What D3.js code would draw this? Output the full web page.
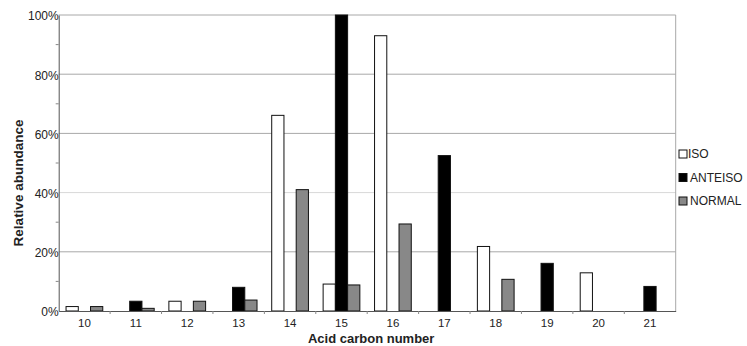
<!DOCTYPE html>
<html>
<head>
<meta charset="utf-8">
<script src="https://cdn.jsdelivr.net/npm/d3@7"></script>
<style>
	body { margin: 0; background: #fff; }
	text { font-family: "Liberation Sans", Arial, sans-serif; fill: #222; }
</style>
</head>
<body>
<div id="chartDiv"></div>
<script>
let categories = ["10", "11", "12", "13", "14", "15", "16", "17", "18", "19", "20", "21"]
let series = ["ISO", "ANTEISO", "NORMAL"]
let isoValues = [1.5, 0, 3.3, 0, 66.1, 9.1, 93, 0, 21.8, 0, 12.9, 0]
let anteisoValues = [0, 3.3, 0, 8.0, 0, 100, 0, 52.5, 0, 16.1, 0, 8.3]
let normalValues = [1.5, 0.9, 3.3, 3.7, 41, 8.8, 29.4, 0, 10.7, 0, 0, 0]
let yTicks = [0, 20, 40, 60, 80, 100]
let yMinorTicks = [10, 30, 50, 70, 90]

let chartWidth = 747
let chartHeight = 346
let plotLeft = 58.7, plotRight = 675.7, plotTop = 15, plotBottom = 311

let fills = { ISO: "#fff", ANTEISO: "#000", NORMAL: "#888" }
let valuesBySeries = { ISO: isoValues, ANTEISO: anteisoValues, NORMAL: normalValues }

let svg = d3.select("#chartDiv")
	.append("svg")
	.attr("width", chartWidth)
	.attr("height", chartHeight)

let x = d3.scaleBand()
	.domain(categories)
	.range([plotLeft, plotRight])
	.paddingInner(0)
	.paddingOuter(0)

let xSub = d3.scaleBand()
	.domain(series)
	.range([0, x.bandwidth()])
	.paddingInner(0)
	.paddingOuter(0.6)

let y = d3.scaleLinear()
	.domain([0, 100])
	.range([plotBottom, plotTop])

// Gridlines
svg.selectAll("line.grid")
	.data(yTicks.slice(1))
	.enter()
	.append("line")
	.attr("class", "grid")
	.attr("x1", plotLeft)
	.attr("x2", plotRight)
	.attr("y1", d => y(d))
	.attr("y2", d => y(d))
	.attr("stroke", d => d == 40 ? "#d8d8d8" : "#a8a8a8")
	.attr("stroke-width", 1)

// Right border
svg.append("line")
	.attr("x1", plotRight).attr("x2", plotRight)
	.attr("y1", plotTop).attr("y2", plotBottom)
	.attr("stroke", "#a8a8a8")

// Bars
let rows = categories.map((c, i) => ({ cat: c, vals: series.map(s => ({ s: s, v: valuesBySeries[s][i] })) }))

let groups = svg.selectAll("g.group")
	.data(rows)
	.enter()
	.append("g")
	.attr("class", "group")
	.attr("transform", d => "translate(" + x(d.cat) + ",0)")

groups.selectAll("rect")
	.data(d => d.vals.filter(e => e.v > 0))
	.enter()
	.append("rect")
	.attr("x", d => xSub(d.s))
	.attr("y", d => y(d.v))
	.attr("width", xSub.bandwidth())
	.attr("height", d => plotBottom - y(d.v))
	.attr("fill", d => fills[d.s])
	.attr("stroke", "#111")
	.attr("stroke-width", 1)

// Y axis
let yAxis = d3.axisLeft(y)
	.tickValues(yTicks)
	.tickSize(0)
	.tickPadding(0)
	.tickFormat(d => d + "%")

let yG = svg.append("g")
	.attr("transform", "translate(" + plotLeft + ",0)")
	.call(yAxis)
yG.select(".domain").attr("stroke", "#555")
yG.selectAll("text")
	.attr("font-size", 12)
	.attr("fill", "#222")
	.attr("dy", "0.4em")
	.style("font-family", "Liberation Sans, Arial, sans-serif")

// minor y ticks
svg.selectAll("line.ytick")
	.data(yMinorTicks)
	.enter()
	.append("line")
	.attr("x1", plotLeft - 3)
	.attr("x2", plotLeft)
	.attr("y1", d => y(d))
	.attr("y2", d => y(d))
	.attr("stroke", "#888")

// X axis
let xAxis = d3.axisBottom(x)
	.tickSize(0)
	.tickPadding(8)

let xG = svg.append("g")
	.attr("transform", "translate(0," + plotBottom + ")")
	.call(xAxis)
xG.select(".domain").attr("stroke", "#555")
xG.selectAll("text")
	.attr("font-size", 11.5)
	.attr("fill", "#222")
	.style("font-family", "Liberation Sans, Arial, sans-serif")

// category boundary ticks
svg.selectAll("line.xtick")
	.data(categories.slice(1))
	.enter()
	.append("line")
	.attr("x1", d => x(d))
	.attr("x2", d => x(d))
	.attr("y1", plotBottom)
	.attr("y2", plotBottom + 3)
	.attr("stroke", "#888")

// Axis titles
svg.append("text")
	.text("Acid carbon number")
	.attr("x", (plotLeft + plotRight) / 2 + 4)
	.attr("y", 343)
	.attr("text-anchor", "middle")
	.attr("font-size", 13)
	.attr("font-weight", "bold")

svg.append("text")
	.text("Relative abundance")
	.attr("transform", "translate(23," + 183 + ") rotate(-90)")
	.attr("text-anchor", "middle")
	.attr("font-size", 13.5)
	.attr("font-weight", "bold")

// Legend
let legend = svg.selectAll("g.legend")
	.data(series)
	.enter()
	.append("g")
	.attr("class", "legend")
	.attr("transform", (d, i) => "translate(679," + (154 + i * 23.5) + ")")

legend.append("rect")
	.attr("x", 0)
	.attr("y", -4)
	.attr("width", 8)
	.attr("height", 8)
	.attr("fill", d => fills[d])
	.attr("stroke", "#111")

legend.append("text")
	.text(d => d)
	.attr("x", d => d == "ISO" ? 9 : 11)
	.attr("y", 0)
	.attr("dy", "0.36em")
	.attr("font-size", 12)
</script>
</body>
</html>
